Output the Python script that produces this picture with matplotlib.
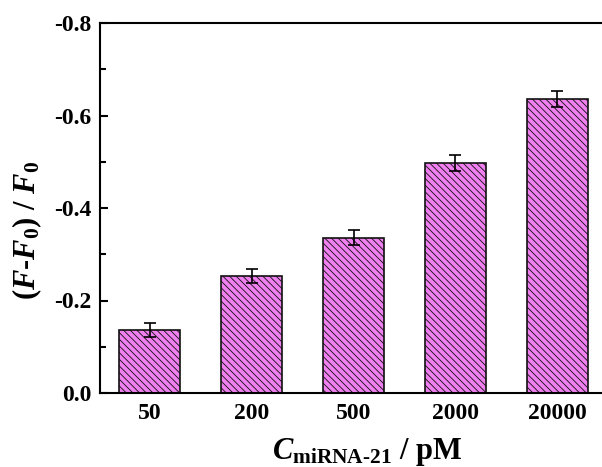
import matplotlib
matplotlib.use("Agg")
import matplotlib.pyplot as plt
import numpy as np

categories = ["50", "200", "500", "2000", "20000"]
values = [-0.136, -0.253, -0.336, -0.497, -0.636]
errors = [0.015, 0.016, 0.016, 0.017, 0.018]
yticks = [0.0, -0.2, -0.4, -0.6, -0.8]
ytick_labels = ["0.0", "-0.2", "-0.4", "-0.6", "-0.8"]

plt.rcParams['font.family'] = ['Liberation Serif', 'DejaVu Serif']
plt.rcParams['font.weight'] = 'bold'
plt.rcParams['mathtext.fontset'] = 'custom'
plt.rcParams['mathtext.rm'] = 'Liberation Serif:bold'
plt.rcParams['mathtext.it'] = 'Liberation Serif:italic:bold'
plt.rcParams['mathtext.bf'] = 'Liberation Serif:bold'
plt.rcParams['hatch.linewidth'] = 0.6
plt.rcParams['hatch.color'] = '#333333'

fig = plt.figure(figsize=(6.02, 4.67), dpi=100)
ax = fig.add_axes([100/602, 74/467, 1 - 100/602, 370/467])

x = np.arange(len(categories))
ax.bar(x, values, width=0.6, color='#F07FF0', edgecolor='#111111', linewidth=1.2,
       hatch='\\' * 5, zorder=2)
ax.errorbar(x, values, yerr=errors, fmt='none', ecolor='black', elinewidth=1.2,
            capsize=4, capthick=1.2, zorder=3)

ax.set_xlim(-0.49, 4.44)
ax.set_ylim(0.0, -0.8)
ax.set_yticks(yticks)
ax.set_yticklabels(ytick_labels)
ax.set_yticks([-0.1, -0.3, -0.5, -0.7], minor=True)
ax.set_xticks(x)
ax.set_xticklabels(categories)
ax.tick_params(axis='y', which='major', direction='in', length=6, width=1.5, labelsize=17, pad=6)
ax.tick_params(axis='y', which='minor', direction='in', length=4, width=1.5)
ax.tick_params(axis='x', length=0, labelsize=17, pad=7)
for s in ['left', 'top', 'bottom']:
    ax.spines[s].set_linewidth(1.5)
ax.spines['right'].set_visible(False)

ax.set_ylabel(r'$(F\text{-}F_{0})\ \mathrm{/}\ F_{0}$', fontsize=22, labelpad=4)
ax.set_xlabel(r'$C_{\mathrm{miRNA}\text{-}\mathrm{21}}\ \mathrm{/\ pM}$', fontsize=22, labelpad=2)
ax.xaxis.set_label_coords((367-100)/502, -0.115)
ax.yaxis.set_label_coords(-0.112, 0.44)

fig.savefig('out.png', dpi=100)
